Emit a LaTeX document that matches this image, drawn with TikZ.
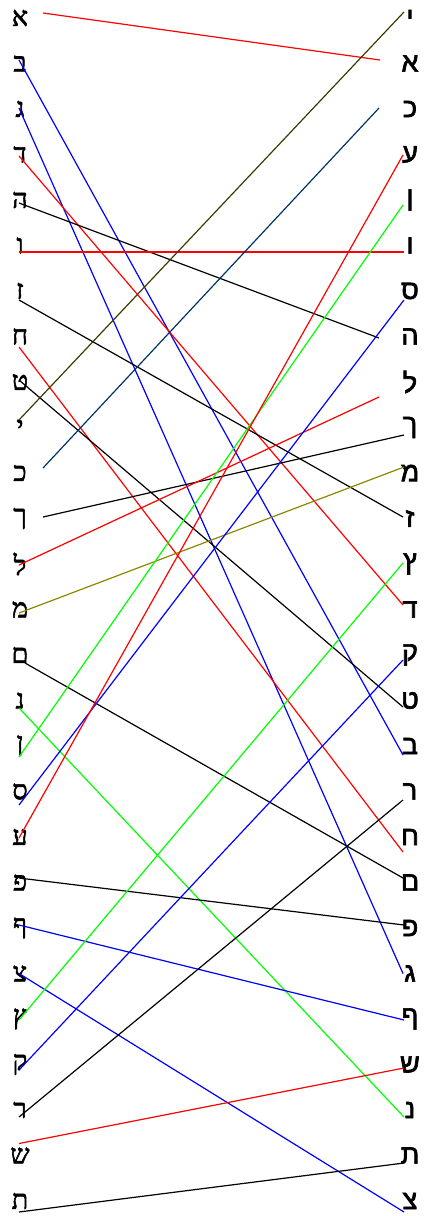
\documentclass[tikz,border=0pt]{standalone}
\usepackage{fontspec}
\newfontfamily\hebsquare[Script=Hebrew,FakeBold=2]{Liberation Serif}
\newfontfamily\hebround[Script=Hebrew,FakeBold=2.5]{Liberation Sans}
\definecolor{darkolive}{RGB}{60,60,0}
\definecolor{deepblue}{RGB}{0,51,102}

\begin{document}
\begin{tikzpicture}[x=1pt, y=-1pt, line width=1.2pt,
    leftletter/.style={font=\hebsquare\fontsize{27}{27}\selectfont, inner sep=0pt},
    rightletter/.style={font=\hebround\fontsize{27}{27}\selectfont, inner sep=0pt}]
    \useasboundingbox (0,0) rectangle (426,1216);

    % Levy sloupec
    \foreach \ch [count=\i from 0] in {א,ב,ג,ד,ה,ו,ז,ח,ט,י,כ,ך,ל,מ,ם,נ,ן,ס,ע,פ,ף,צ,ץ,ק,ר,ש,ת}
        \node[leftletter] (L\i) at (20, 18+45.5*\i) {\ch};

    % Pravy sloupec
    \foreach \ch [count=\j from 0] in {י,א,כ,ע,ן,ו,ס,ה,ל,ך,מ,ז,ץ,ד,ק,ט,ב,ר,ח,ם,פ,ג,ף,ש,נ,ת,צ}
        \node[rightletter] (R\j) at (410, 18+45.5*\j) {\ch};

    % Spojnice: levy index / posun / pravy index / posun / barva
    \foreach \i/\dl/\j/\dr/\col in {
        0/{23,-5}/1/{-30,-3.5}/red,
        1/{-1,-3.5}/16/{-7,9}/blue,
        2/{-1,-1}/21/{-7,0}/blue,
        3/{-1,1.5}/13/{-7,-4.5}/red,
        4/{-1,3}/7/{-31,1.5}/black,
        5/{-1,6.5}/5/{-6,6.5}/red,
        6/{-1,9}/11/{-7,-1.5}/black,
        7/{-1,10.5}/18/{-7,15}/red,
        8/{-1,-2}/15/{-7,6.5}/black,
        9/{-1,-7.5}/0/{-6,-6}/darkolive,
        10/{23,-5}/2/{-31,-1}/deepblue,
        11/{23,-1.5}/9/{-6,7.5}/black,
        12/{-1,1}/8/{-31,15}/red,
        13/{-1,3.5}/10/{-6,-6}/olive,
        14/{5,8}/19/{-7,-4.5}/black,
        15/{-1,7.5}/24/{-6,7}/green,
        16/{-1,11}/4/{-7,5}/green,
        17/{-1,13.5}/6/{-6,9}/blue,
        18/{-1,1}/3/{-7,0.5}/red,
        19/{-1,-4.5}/20/{-6,-3}/black,
        20/{-1,-3}/22/{-6,1}/blue,
        21/{-1,0}/26/{-6,11}/blue,
        22/{-1,1}/12/{-7,-1}/green,
        23/{-1,5.5}/14/{-7,5}/blue,
        24/{-1,7}/17/{-7,8.5}/black,
        25/{-1,-12}/23/{-6,3.5}/red,
        26/{-1,11}/25/{-6,7.5}/black}
        \draw[\col] ([shift={(\dl)}]L\i.center) -- ([shift={(\dr)}]R\j.center);

\end{tikzpicture}
\end{document}
